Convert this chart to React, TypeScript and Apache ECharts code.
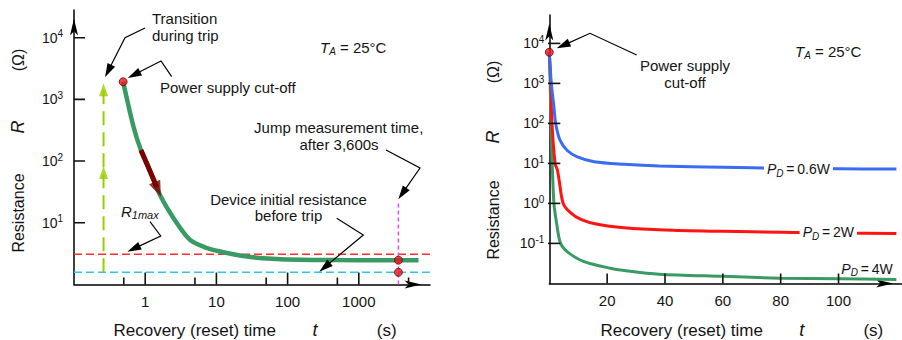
import React, { useEffect, useRef } from 'react';
import * as echarts from 'echarts';

const FONT = '"Liberation Sans", Arial, Helvetica, sans-serif';
const INK = '#141414';

// ---------- Left chart (log t, log R) ----------
const leftXMin = 0.1;
const leftXMax = 10000;
const leftYMin = 1;
const leftYMax = 28184;
const leftXMajor = [1, 10, 100, 1000];
const leftXMinor = [0.5, 5, 50, 500, 5000];
const leftYTicks = [10, 100, 1000, 10000];

const leftTime = [0.49, 0.685, 0.87, 1.2, 1.66, 2.79, 4.28, 7.36, 11.3, 17.2, 30, 60, 150, 500, 2000, 6900];
const leftR = [1930, 360, 151, 64, 26.4, 9.8, 5.25, 3.89, 3.41, 3.08, 2.78, 2.6, 2.5, 2.48, 2.47, 2.47];
const tripSegT = [0.87, 1.2, 1.45];
const tripSegR = [151, 64, 38];
const tripArrowTip = [1.66, 26.4];

const r1max = 3.08;
const rInitial = 1.57;
const jumpT = 3600;
const jumpR = 2.47;
const jumpLineTop = 23;
const cutOffT = 0.49;
const cutOffR = 1930;
const transT = 0.26;
const transArrowR = [83, 1820];

// ---------- Right chart (linear t, log R) ----------
const rightXMin = 0;
const rightXMax = 121.8;
const rightYMin = 0.01;
const rightYMax = 51286;
const rightXTicks = [20, 40, 60, 80, 100];
const rightYTicks = [0.1, 1, 10, 100, 1000, 10000];

const t06 = [0, 0.7, 1.6, 2.2, 3.7, 6.2, 9.7, 15.5, 25.9, 38, 60, 80, 100, 120];
const r06 = [6000, 1000, 260, 100, 38, 21, 14.6, 11, 9.5, 8.6, 8.0, 7.6, 7.35, 7.2];
const t2 = [0, 0.5, 0.93, 2.0, 2.8, 3.4, 4.8, 7.4, 10.9, 16.6, 25.9, 40, 60, 80, 100, 120];
const r2 = [6000, 1000, 100, 10, 6.8, 3.8, 1, 0.58, 0.4, 0.3, 0.245, 0.215, 0.2, 0.19, 0.182, 0.178];
const t4 = [0, 0.3, 0.6, 1.0, 1.6, 2.5, 3.9, 6.8, 12, 21, 26, 38, 60, 80, 100, 120];
const r4 = [6000, 1000, 100, 10, 1, 0.33, 0.1, 0.057, 0.035, 0.024, 0.021, 0.017, 0.015, 0.0135, 0.013, 0.0126];
const rightCutOff = [0, 6000];

const GREEN = '#3a9a64';
const BLUE = '#3a6cf2';
const RED = '#ff1414';
const DARKRED = '#7d0000';
const LIME = '#9acd00';
const DASHRED = '#ff2a2a';
const CYAN = '#2cc6f2';
const MAGENTA = '#e64ce6';
const TICK = '#111';

// tick-mark extents, expressed in each axis's own units (decades or seconds)
const LX_DEC = 5 / 356;        // decades per pixel, left x
const LY_DEC = 4.45 / 274.4;   // decades per pixel, left y
const RY_DEC = 6.71 / 268.4;   // decades per pixel, right y
const RX_UNIT = 121.8 / 352.3; // seconds per pixel, right x

const zip = (a: number[], b: number[]) => a.map((v, i) => [v, b[i]]);

const axisLine = () => ({
  show: true,
  onZero: false,
  lineStyle: { color: '#000', width: 1.5 },
  symbol: ['none', 'arrow'],
  symbolSize: [6, 17],
  symbolOffset: [0, -8.5],
});

const powRich = {
  b: { fontSize: 14, fontFamily: FONT, color: INK, lineHeight: 18, verticalAlign: 'middle' },
  s: { fontSize: 10, fontFamily: FONT, color: INK, lineHeight: 8, verticalAlign: 'top' },
};
const powFmt = (v: number) => `{b|10}{s|${Math.round(Math.log10(v))}}`;

function tickLine(xi: number, yi: number, a: number[], b: number[]) {
  return {
    type: 'line', xAxisIndex: xi, yAxisIndex: yi, data: [a, b], showSymbol: false,
    silent: true, z: 10, lineStyle: { color: TICK, width: 1.6 },
  };
}

// ticks start exactly on the axis minimum (values below a log minimum are dropped)
function buildTicks() {
  const out: any[] = [];
  leftXMajor.forEach((v) =>
    out.push(tickLine(0, 0, [v, leftYMin], [v, leftYMin * 10 ** (12 * LY_DEC)])));
  leftXMinor.forEach((v) =>
    out.push(tickLine(0, 0, [v, leftYMin], [v, leftYMin * 10 ** (7 * LY_DEC)])));
  leftYTicks.forEach((v) =>
    out.push(tickLine(0, 0, [leftXMin, v], [leftXMin * 10 ** (11 * LX_DEC), v])));
  rightXTicks.forEach((v) =>
    out.push(tickLine(1, 1, [v, rightYMin], [v, rightYMin * 10 ** (10 * RY_DEC)])));
  rightYTicks.forEach((v) =>
    out.push({ ...tickLine(1, 1, [rightXMin - 4 * RX_UNIT, v], [rightXMin + 11 * RX_UNIT, v]), clip: false }));
  return out;
}

function txt(x: number, y: number, text: string, extra: any = {}, styleExtra: any = {}) {
  return {
    type: 'text',
    x,
    y,
    z: 50,
    ...extra,
    style: {
      text,
      fontSize: 15,
      fontFamily: FONT,
      fill: INK,
      align: 'left',
      verticalAlign: 'middle',
      textAlign: 'left',
      textVerticalAlign: 'middle',
      ...styleExtra,
    },
  };
}

function subRich(main: number, sub: number, subItalic = true) {
  return {
    i: { fontSize: main, fontFamily: FONT, fontStyle: 'italic', fill: INK, color: INK, lineHeight: 18, verticalAlign: 'middle' },
    s: { fontSize: sub, fontFamily: FONT, fontStyle: subItalic ? 'italic' : 'normal', fill: INK, color: INK, lineHeight: 11, verticalAlign: 'bottom' },
    n: { fontSize: main, fontFamily: FONT, fill: INK, color: INK, lineHeight: 18, verticalAlign: 'middle' },
  };
}

function leader(pts: number[][]) {
  const n = pts.length;
  const [tx, ty] = pts[n - 1];
  const [px, py] = pts[n - 2];
  const dx = tx - px;
  const dy = ty - py;
  const len = Math.hypot(dx, dy);
  const ux = dx / len;
  const uy = dy / len;
  const L = 14;
  const W = 4.2;
  const bx = tx - ux * L;
  const by = ty - uy * L;
  return [
    {
      type: 'polyline',
      z: 40,
      shape: { points: [...pts.slice(0, n - 1), [bx + ux * 2, by + uy * 2]] },
      style: { stroke: '#000', lineWidth: 1.2, fill: null },
    },
    {
      type: 'polygon',
      z: 40,
      shape: { points: [[tx, ty], [bx - uy * W, by + ux * W], [bx + uy * W, by - ux * W]] },
      style: { fill: '#000' },
    },
  ];
}

function buildOption() {
  const rot = { rotation: Math.PI / 2 };
  const centered = { align: 'center', textAlign: 'center' };

  const graphics: any[] = [
    // left annotations
    txt(152, 18, 'Transition'),
    txt(152, 35.5, 'during trip'),
    txt(160, 87, 'Power supply cut-off'),
    txt(320, 47.5, '{i|T}{s|A}{n| = 25°C}', {}, { rich: subRich(15, 10) }),
    txt(338.7, 127.5, 'Jump measurement time,', {}, centered),
    txt(339, 144, 'after 3,600s', {}, centered),
    txt(288.5, 199, 'Device initial resistance', {}, centered),
    txt(288.5, 215.5, 'before trip', {}, centered),
    txt(121, 211, '{i|R}{s|1max}', {}, { rich: subRich(15, 11) }),
    txt(18.3, 60, '(Ω)', rot, { ...centered, fontSize: 16 }),
    txt(18, 127, 'R', rot, { ...centered, fontSize: 18, fontStyle: 'italic' }),
    txt(18, 213, 'Resistance', rot, { ...centered, fontSize: 16 }),
    txt(194.7, 330, 'Recovery (reset) time', {}, { ...centered, fontSize: 17 }),
    txt(315, 330, 't', {}, { ...centered, fontSize: 18, fontStyle: 'italic' }),
    txt(386.7, 330, '(s)', {}, { ...centered, fontSize: 17 }),
    // right annotations
    txt(685, 65.5, 'Power supply', {}, centered),
    txt(685, 82.5, 'cut-off', {}, centered),
    txt(795, 51.7, '{i|T}{s|A}{n| = 25°C}', {}, { rich: subRich(15, 10) }),
    txt(493, 72, '(Ω)', rot, { ...centered, fontSize: 16 }),
    txt(493, 137, 'R', rot, { ...centered, fontSize: 18, fontStyle: 'italic' }),
    txt(493, 220, 'Resistance', rot, { ...centered, fontSize: 16 }),
    txt(681.7, 330, 'Recovery (reset) time', {}, { ...centered, fontSize: 17 }),
    txt(801.7, 330, 't', {}, { ...centered, fontSize: 18, fontStyle: 'italic' }),
    txt(873.3, 330, '(s)', {}, { ...centered, fontSize: 17 }),
    txt(798.5, 169, '{i|P}{s|D}{n|\u2009=\u20090.6W}', {}, {
      ...centered, rich: subRich(14, 10), backgroundColor: '#fff', padding: [0, 3],
    }),
    txt(828.3, 232, '{i|P}{s|D}{n|\u2009=\u20092W}', {}, {
      ...centered, rich: subRich(14, 10), backgroundColor: '#fff', padding: [0, 3],
    }),
    txt(867, 268.5, '{i|P}{s|D}{n|\u2009=\u20094W}', {}, { ...centered, rich: subRich(14, 10) }),
    // leaders
    ...leader([[145, 28], [125, 37.7], [105, 77.3]]),
    ...leader([[171.7, 76.7], [161, 61], [127.7, 78]]),
    ...leader([[386, 150], [420, 168], [398.3, 199.3]]),
    ...leader([[336.7, 218.3], [363.3, 235], [319.3, 271.7]]),
    ...leader([[150, 221.7], [160.7, 236], [127.3, 251.7]]),
    ...leader([[636.7, 55], [590, 33.3], [556.7, 48.3]]),
  ];

  return {
    animation: false,
    backgroundColor: '#fff',
    grid: [
      { left: 74, top: 10, width: 356, height: 274.4 },
      { left: 549.3, top: 15, width: 352.3, height: 268.4 },
    ],
    xAxis: [
      {
        type: 'log', gridIndex: 0, min: leftXMin, max: leftXMax, position: 'bottom',
        axisLine: axisLine(),
        axisTick: { show: false },
        axisLabel: { customValues: leftXMajor, formatter: (v: number) => String(Math.round(v)), fontSize: 15, fontFamily: FONT, color: INK, margin: 10 },
        splitLine: { show: false },
      },
      {
        type: 'value', gridIndex: 1, min: rightXMin, max: rightXMax, position: 'bottom',
        axisLine: axisLine(),
        axisTick: { show: false },
        axisLabel: { customValues: rightXTicks, fontSize: 15, fontFamily: FONT, color: INK, margin: 10 },
        splitLine: { show: false },
      },
    ],
    yAxis: [
      {
        type: 'log', gridIndex: 0, min: leftYMin, max: leftYMax,
        axisLine: axisLine(),
        axisTick: { show: false },
        axisLabel: { customValues: leftYTicks, formatter: powFmt, rich: powRich, margin: 11 },
        splitLine: { show: false },
      },
      {
        type: 'log', gridIndex: 1, min: rightYMin, max: rightYMax,
        axisLine: axisLine(),
        axisTick: { show: false },
        axisLabel: { customValues: rightYTicks, formatter: powFmt, rich: powRich, margin: 5 },
        splitLine: { show: false },
      },
    ],
    series: [
      // ----- left -----
      {
        type: 'line', xAxisIndex: 0, yAxisIndex: 0, data: [[leftXMin, r1max], [leftXMax, r1max]],
        showSymbol: false, lineStyle: { color: DASHRED, width: 1.5, type: [8, 4] }, z: 2,
      },
      {
        type: 'line', xAxisIndex: 0, yAxisIndex: 0, data: [[leftXMin, rInitial], [leftXMax, rInitial]],
        showSymbol: false, lineStyle: { color: CYAN, width: 1.5, type: [8, 4] }, z: 2,
      },
      {
        type: 'line', xAxisIndex: 0, yAxisIndex: 0, data: [[jumpT, leftYMin], [jumpT, jumpLineTop]],
        showSymbol: false, lineStyle: { color: MAGENTA, width: 1.5, type: [4, 3] }, z: 2,
      },
      {
        type: 'line', xAxisIndex: 0, yAxisIndex: 0, data: [[transT, rInitial], [transT, transArrowR[1]]],
        showSymbol: false, lineStyle: { color: LIME, width: 2, type: [14, 7] }, z: 2,
      },
      {
        type: 'scatter', xAxisIndex: 0, yAxisIndex: 0, symbol: 'triangle', symbolSize: [9, 13],
        data: transArrowR.map((r) => ({ value: [transT, r], symbolOffset: [0, 6.5] })),
        itemStyle: { color: LIME }, z: 3,
      },
      {
        type: 'line', xAxisIndex: 0, yAxisIndex: 0, data: zip(leftTime, leftR), smooth: 0.3,
        showSymbol: false, lineStyle: { color: GREEN, width: 4.5 }, z: 3,
      },
      {
        type: 'line', xAxisIndex: 0, yAxisIndex: 0, data: zip(tripSegT, tripSegR), smooth: 0.3,
        showSymbol: false, lineStyle: { color: DARKRED, width: 5 }, z: 4,
      },
      {
        type: 'scatter', xAxisIndex: 0, yAxisIndex: 0, symbol: 'triangle', symbolSize: [12, 16],
        data: [{ value: tripArrowTip, symbolRotate: -157, symbolOffset: [-3.1, -7.4] }],
        itemStyle: { color: DARKRED }, z: 4,
      },
      {
        type: 'scatter', xAxisIndex: 0, yAxisIndex: 0, symbolSize: 8,
        data: [[cutOffT, cutOffR], [jumpT, jumpR], [jumpT, rInitial]],
        itemStyle: { color: '#e8141c', borderColor: '#6a0000', borderWidth: 1 }, z: 6,
      },
      // ----- right -----
      {
        type: 'line', xAxisIndex: 1, yAxisIndex: 1, data: zip(t4, r4), smooth: 0.3,
        showSymbol: false, lineStyle: { color: GREEN, width: 3 }, z: 3,
      },
      {
        type: 'line', xAxisIndex: 1, yAxisIndex: 1, data: zip(t2, r2), smooth: 0.3,
        showSymbol: false, lineStyle: { color: RED, width: 3 }, z: 3,
      },
      {
        type: 'line', xAxisIndex: 1, yAxisIndex: 1, data: zip(t06, r06), smooth: 0.3,
        showSymbol: false, lineStyle: { color: BLUE, width: 3 }, z: 3,
      },
      {
        type: 'scatter', xAxisIndex: 1, yAxisIndex: 1, symbolSize: 8, data: [rightCutOff],
        itemStyle: { color: '#e8141c', borderColor: '#6a0000', borderWidth: 1 }, z: 6,
      },
      // ----- ticks -----
      ...buildTicks(),
    ],
    graphic: { elements: graphics },
  };
}

export default function App() {
  const ref = useRef<HTMLDivElement>(null);
  useEffect(() => {
    document.body.style.margin = '0';
    const chart = echarts.init(ref.current!, null, { renderer: 'svg' });
    chart.setOption(buildOption() as any);
    return () => chart.dispose();
  }, []);
  return (
    <div
      ref={ref}
      style={{ position: 'absolute', left: 0, top: 0, width: 902, height: 340, background: '#fff' }}
    />
  );
}
